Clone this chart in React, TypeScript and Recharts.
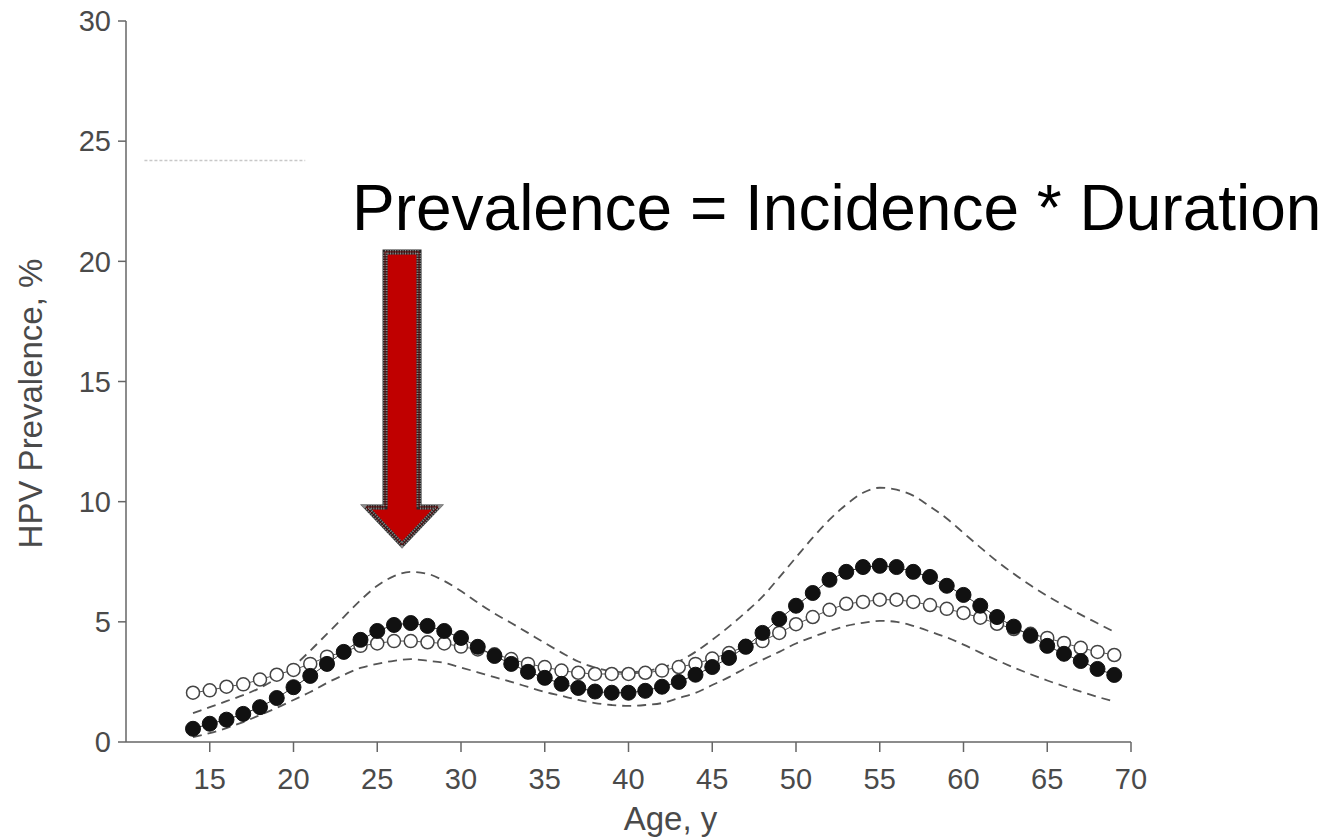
import { LineChart, Line, XAxis, YAxis, ReferenceDot, ReferenceLine } from "recharts";

// age in years, one point per year
const ages = [
  14, 15, 16, 17, 18, 19, 20, 21, 22, 23, 24, 25, 26, 27, 28, 29, 30, 31, 32, 33, 34, 35, 36, 37, 38, 39, 40, 41,
  42, 43, 44, 45, 46, 47, 48, 49, 50, 51, 52, 53, 54, 55, 56, 57, 58, 59, 60, 61, 62, 63, 64, 65, 66, 67, 68, 69,
];

const filledSeries = [
  0.55, 0.76, 0.93, 1.17, 1.45, 1.83, 2.28, 2.75, 3.25, 3.75, 4.25, 4.62, 4.87, 4.95, 4.83, 4.62, 4.33, 3.96, 3.58,
  3.25, 2.92, 2.67, 2.42, 2.25, 2.1, 2.05, 2.05, 2.13, 2.3, 2.5, 2.8, 3.12, 3.5, 3.96, 4.54, 5.12, 5.67, 6.2, 6.75,
  7.08, 7.28, 7.33, 7.28, 7.08, 6.87, 6.5, 6.12, 5.67, 5.2, 4.8, 4.42, 4.0, 3.67, 3.37, 3.04, 2.79,
];

const openSeries = [
  2.05, 2.15, 2.3, 2.4, 2.6, 2.8, 3.0, 3.25, 3.55, 3.75, 4.0, 4.1, 4.2, 4.2, 4.15, 4.1, 3.97, 3.85, 3.65, 3.45, 3.25,
  3.12, 2.97, 2.88, 2.83, 2.83, 2.83, 2.88, 2.97, 3.12, 3.25, 3.47, 3.7, 4.0, 4.2, 4.54, 4.9, 5.2, 5.5, 5.75, 5.83,
  5.92, 5.92, 5.83, 5.7, 5.54, 5.37, 5.17, 4.92, 4.7, 4.5, 4.33, 4.12, 3.92, 3.75, 3.62,
];

const upperBound = [
  1.2, 1.45, 1.7, 1.95, 2.25, 2.65, 3.15, 3.8, 4.5, 5.2, 5.9, 6.5, 6.9, 7.08, 7.0, 6.7, 6.28, 5.8, 5.35, 4.95, 4.54,
  4.12, 3.72, 3.35, 3.1, 2.95, 2.9, 2.95, 3.1, 3.35, 3.75, 4.25, 4.8, 5.4, 6.05, 6.85, 7.68, 8.5, 9.25, 9.88, 10.37,
  10.58, 10.5, 10.25, 9.8, 9.3, 8.7, 8.1, 7.52, 7.0, 6.52, 6.08, 5.68, 5.3, 4.94, 4.58,
];

const lowerBound = [
  0.2, 0.37, 0.58, 0.83, 1.12, 1.42, 1.75, 2.08, 2.46, 2.79, 3.08, 3.25, 3.38, 3.45, 3.38, 3.29, 3.1, 2.9, 2.7, 2.5,
  2.29, 2.08, 1.92, 1.75, 1.62, 1.54, 1.5, 1.54, 1.62, 1.83, 2.04, 2.37, 2.7, 3.08, 3.42, 3.75, 4.1, 4.37, 4.62, 4.83,
  4.96, 5.04, 5.0, 4.83, 4.6, 4.35, 4.05, 3.72, 3.4, 3.1, 2.82, 2.56, 2.32, 2.1, 1.88, 1.68,
];

const xTicks = [15, 20, 25, 30, 35, 40, 45, 50, 55, 60, 65, 70];
const yTicks = [0, 5, 10, 15, 20, 25, 30];

const title = "Prevalence = Incidence * Duration";

const chartData = ages.map((age, i) => ({
  age,
  filled: filledSeries[i],
  open: openSeries[i],
  upper: upperBound[i],
  lower: lowerBound[i],
}));

const axisFont = "'Liberation Sans', Arial, Helvetica, sans-serif";
const axisColor = "#666";
const textColor = "#4a4a4a";

const renderYLabel = (props: any) => {
  const vb = props.viewBox || { x: 0, y: 21, width: 126, height: 721 };
  const cx = vb.x + 30;
  const cy = vb.y + vb.height / 2 + 22;
  return (
    <text
      x={cx}
      y={cy}
      transform={`rotate(-90, ${cx}, ${cy})`}
      textAnchor="middle"
      dominantBaseline="central"
      fill={textColor}
      fontSize={33}
      fontFamily={axisFont}
    >
      HPV Prevalence, %
    </text>
  );
};

const renderXLabel = (props: any) => {
  const vb = props.viewBox || { x: 126, y: 742, width: 1005, height: 95 };
  return (
    <text
      x={vb.x + vb.width / 2 + 42}
      y={vb.y + 88}
      textAnchor="middle"
      fill={textColor}
      fontSize={33}
      fontFamily={axisFont}
    >
      Age, y
    </text>
  );
};

// red arrow pointing down, tip at (cx, cy)
const ArrowShape = (props: any) => {
  const { cx, cy } = props;
  const d = [
    `M${cx - 17},${cy - 293}`,
    `L${cx + 17},${cy - 293}`,
    `L${cx + 17},${cy - 38}`,
    `L${cx + 36},${cy - 38}`,
    `L${cx},${cy}`,
    `L${cx - 36},${cy - 38}`,
    `L${cx - 17},${cy - 38}`,
    "Z",
  ].join(" ");
  return (
    <g>
      <path d={d} fill="#c00000" stroke="#2b2b2b" strokeWidth={5} strokeLinejoin="miter" />
      <path d={d} fill="none" stroke="#8a8a8a" strokeWidth={5} strokeDasharray="1 1.5" />
      <path d={d} fill="none" stroke="#5a0000" strokeWidth={1} />
    </g>
  );
};

const TitleShape = (props: any) => (
  <text x={props.cx} y={props.cy} fill="#000" fontSize={64} fontFamily="'Liberation Sans', Arial, sans-serif">
    {title}
  </text>
);

export default function App() {
  return (
    <div style={{ position: "absolute", left: 0, top: 0, width: 1330, height: 837, background: "#fff" }}>
      <LineChart
        width={1330}
        height={837}
        data={chartData}
        margin={{ top: 21, right: 199, bottom: 0, left: 0 }}
      >
        <XAxis
          dataKey="age"
          type="number"
          domain={[10, 70]}
          ticks={xTicks}
          height={95}
          tickSize={10}
          tickMargin={16}
          stroke={axisColor}
          strokeWidth={1.5}
          tick={{ fill: textColor, fontSize: 29, fontFamily: axisFont }}
          label={renderXLabel}
        />
        <YAxis
          type="number"
          domain={[0, 30]}
          ticks={yTicks}
          width={126}
          tickSize={8}
          tickMargin={7}
          stroke={axisColor}
          strokeWidth={1.5}
          tick={{ fill: textColor, fontSize: 29, fontFamily: axisFont }}
          label={renderYLabel}
        />
        <ReferenceLine
          segment={[
            { x: 11.1, y: 24.2 },
            { x: 20.7, y: 24.2 },
          ]}
          stroke="#c8c8c8"
          strokeWidth={1.5}
          strokeDasharray="3 2"
        />
        <Line
          type="monotone"
          dataKey="upper"
          stroke="#555"
          strokeWidth={1.8}
          strokeDasharray="9 6"
          dot={false}
          activeDot={false}
          isAnimationActive={false}
        />
        <Line
          type="monotone"
          dataKey="lower"
          stroke="#555"
          strokeWidth={1.8}
          strokeDasharray="9 6"
          dot={false}
          activeDot={false}
          isAnimationActive={false}
        />
        <Line
          type="linear"
          dataKey="open"
          stroke="#555"
          strokeWidth={1}
          dot={{ r: 6.5, fill: "#fff", stroke: "#444", strokeWidth: 1.5 }}
          activeDot={false}
          isAnimationActive={false}
        />
        <Line
          type="linear"
          dataKey="filled"
          stroke="#333"
          strokeWidth={1}
          dot={{ r: 7.5, fill: "#111", stroke: "#111", strokeWidth: 1 }}
          activeDot={false}
          isAnimationActive={false}
        />
        <ReferenceDot x={26.48} y={8.2} r={0} shape={ArrowShape} />
        <ReferenceDot x={23.49} y={21.3} r={0} shape={TitleShape} />
      </LineChart>
    </div>
  );
}
